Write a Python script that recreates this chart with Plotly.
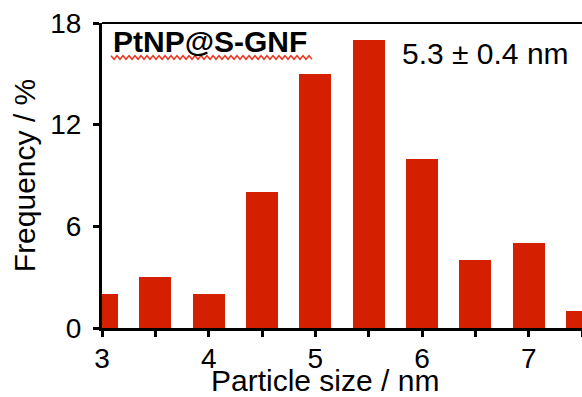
import plotly.graph_objects as go

# Data
particle_size = [3.0, 3.5, 4.0, 4.5, 5.0, 5.5, 6.0, 6.5, 7.0, 7.5]
frequency = [2, 3, 2, 8, 15, 17, 10, 4, 5, 1]
x_tickvals = [3, 3.5, 4, 4.5, 5, 5.5, 6, 6.5, 7, 7.5]
x_ticktext = ["3", "", "4", "", "5", "", "6", "", "7", ""]
y_tickvals = [0, 6, 12, 18]

FONT = "Liberation Sans, Arial, Helvetica, sans-serif"
RED = "#D42000"

fig = go.Figure()
fig.add_trace(go.Bar(x=particle_size, y=frequency, width=0.3,
                     marker=dict(color=RED, line=dict(width=0)),
                     showlegend=False))

W, H = 582, 397
ml, mr, mt, mb = 102, 0, 23, 69
pw = W - ml - mr
ph = H - mt - mb


def px2paper_x(px):
    return (px - ml) / pw


def px2paper_y(py):
    return 1 - (py - mt) / ph


fig.update_layout(
    width=W, height=H,
    margin=dict(l=ml, r=mr, t=mt, b=mb, pad=0),
    plot_bgcolor="white", paper_bgcolor="white",
    font=dict(family=FONT, color="black"),
    bargap=0,
)
fig.update_xaxes(
    range=[3, 7.5], tickvals=x_tickvals, ticktext=x_ticktext,
    ticks="outside", ticklen=6, tickwidth=2.5, tickcolor="black",
    showline=True, linewidth=3, linecolor="black",
    showgrid=False, zeroline=False, automargin=False,
    tickfont=dict(size=28, family=FONT), ticklabelstandoff=-3,
)
fig.update_yaxes(
    range=[0, 18], tickvals=y_tickvals,
    ticks="outside", ticklen=6, tickwidth=2.5, tickcolor="black",
    showline=True, linewidth=3, linecolor="black",
    showgrid=False, zeroline=False, automargin=False,
    tickfont=dict(size=28, family=FONT), ticklabelstandoff=6,
    title=dict(text="Frequency / %", font=dict(size=30, family=FONT), standoff=6),
)

# top frame line
fig.add_shape(type="line", xref="paper", yref="paper", x0=0, x1=1, y0=1, y1=1,
              line=dict(color="black", width=2))

# x-axis title (offset left of plot centre as in the reference)
fig.add_annotation(text="Particle size / nm", xref="paper", yref="paper",
                   x=px2paper_x(325), y=px2paper_y(380.5), xanchor="center", yanchor="middle",
                   showarrow=False, font=dict(size=30, family=FONT, color="black"))

# labels
fig.add_annotation(text="<b>PtNP@S-GNF</b>", xref="paper", yref="paper",
                   x=px2paper_x(111), y=px2paper_y(41.5), xanchor="left", yanchor="middle",
                   showarrow=False, font=dict(size=30, family=FONT, color="black"))
fig.add_annotation(text="5.3 ± 0.4 nm", xref="paper", yref="paper",
                   x=px2paper_x(571), y=px2paper_y(54), xanchor="right", yanchor="middle",
                   showarrow=False, font=dict(size=30, family=FONT, color="black"))

# red wavy underline (spell-check squiggle) under the label
x_start, x_end, y_base = 111, 312, 57.5
step, amp = 3.0, 1.8
pts = []
n = int((x_end - x_start) / step)
for i in range(n + 1):
    px = x_start + i * step
    py = y_base + (amp if i % 2 else -amp)
    pts.append((px2paper_x(px), px2paper_y(py)))
path = "M " + " L ".join(f"{a:.5f},{b:.5f}" for a, b in pts)
fig.add_shape(type="path", xref="paper", yref="paper", path=path,
              line=dict(color="#E8341C", width=1.4))

fig.write_html("out.html")
